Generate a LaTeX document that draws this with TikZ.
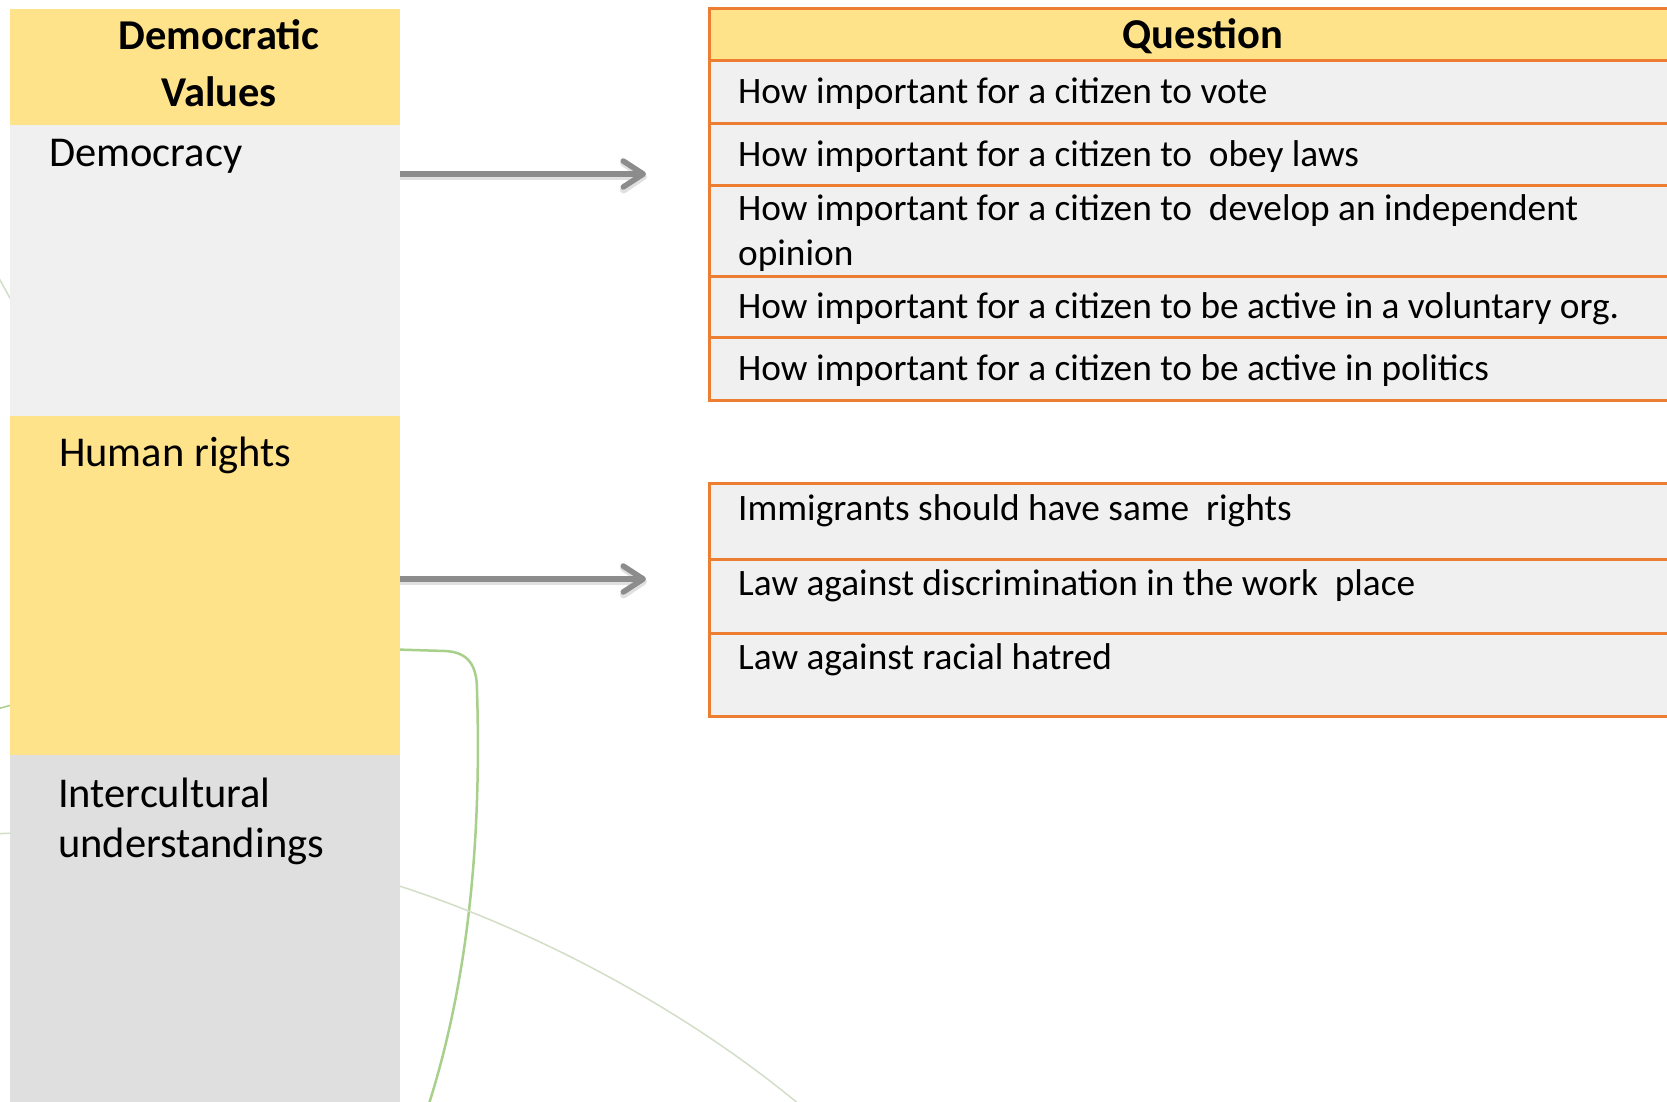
\documentclass[tikz,border=0pt]{standalone}
\usepackage{fontspec}
\setmainfont{Carlito}
\usetikzlibrary{arrows.meta}
\definecolor{cyel}{HTML}{FFE38A}
\definecolor{cgl}{HTML}{F0F0F0}
\definecolor{cgd}{HTML}{DFDFDF}
\definecolor{corg}{HTML}{ED7D31}
\definecolor{carr}{HTML}{8C8C8C}
\definecolor{cgrn}{HTML}{A8D08D}
\definecolor{cgrnf}{HTML}{D2DFC6}
\begin{document}
\begin{tikzpicture}[x=1pt,y=-1pt,
 cell/.style={rectangle, inner sep=0pt, outer sep=0pt, draw=none, anchor=north west, minimum width=390pt},
 qrow/.style={rectangle, inner sep=0pt, outer sep=0pt, anchor=north west, fill=cgl, draw=corg, line width=3pt, minimum width=991pt},
 lbig/.style={inner sep=0pt, font=\fontsize{42.5pt}{50pt}\selectfont},
 lbold/.style={inner sep=0pt, anchor=base, font=\fontsize{42.5pt}{50pt}\selectfont\bfseries},
 qtxt/.style={inner sep=0pt, anchor=base west, font=\fontsize{37.3pt}{45pt}\selectfont},
 arr/.style={draw=carr, line width=5.5pt, -{Straight Barb[length=20pt,width=26pt,round]}},
 arrshade/.style={draw=black, opacity=0.12, line width=7pt, -{Straight Barb[length=20pt,width=27pt,round]}},
]
\useasboundingbox (0,0) rectangle (1667,1101);
\clip (0,0) rectangle (1667,1101);
\fill[white] (0,0) rectangle (1667,1101);

% decorative background curves
\draw[cgrnf, line width=1.5pt] (-10,262) -- (40,352);
\draw[cgrn, line width=1.5pt] (-10,711) -- (40,697);
\draw[cgrnf, line width=1.5pt] (-10,834) -- (40,832);
\draw[cgrn, line width=2.5pt] (380,649) -- (445,651) .. controls (468,652) and (477,665) .. (477,690)
  .. controls (482,850) and (466,990) .. (427,1110);
\draw[cgrnf, line width=1.5pt] (380,880) .. controls (520,922) and (680,1005) .. (800,1105);

% left column
\node[cell, fill=cyel, minimum height=116pt] (hdr) at (10,9) {};
\node[cell, fill=cgl, minimum height=291pt] (demo) at (10,125) {};
\node[cell, fill=cyel, minimum height=339pt] (hr) at (10,416) {};
\node[cell, fill=cgd, minimum height=360pt] (ic) at (10,755) {};

\node[lbold] (hdrA) at (219,49) {Democratic};
\node[lbold] (hdrB) at (219,106) {Values};
\node[lbig, anchor=base west] (demoT) at (49,166) {Democracy};
\node[lbig, anchor=base west] (hrT) at (59,466) {Human rights};
\node[lbig, anchor=base west] (icA) at (58,807) {Intercultural};
\node[lbig, anchor=base west] (icB) at (58,857) {understandings};

% question table 1
\node[qrow, fill=cyel, minimum height=52pt] (qh) at (709,8) {};
\node[qrow, minimum height=63pt] (q1) at (709,60) {};
\node[qrow, minimum height=62pt] (q2) at (709,123) {};
\node[qrow, minimum height=91pt] (q3) at (709,185) {};
\node[qrow, minimum height=61pt] (q4) at (709,276) {};
\node[qrow, minimum height=63pt] (q5) at (709,337) {};

\node[inner sep=0pt, anchor=base, font=\fontsize{42.5pt}{48pt}\selectfont\bfseries] (qhT) at (1203,48) {Question};
\node[qtxt] (q1T) at (738,103) {How important for a citizen to vote};
\node[qtxt] (q2T) at (738,166) {How important for a citizen to\ \ obey laws};
\node[qtxt] (q3A) at (738,220) {How important for a citizen to\ \ develop an independent};
\node[qtxt] (q3B) at (738,265) {opinion};
\node[qtxt] (q4T) at (738,318) {How important for a citizen to be active in a voluntary org.};
\node[qtxt] (q5T) at (738,380) {How important for a citizen to be active in politics};

% question table 2
\node[qrow, minimum height=76pt] (r1) at (709,483) {};
\node[qrow, minimum height=74pt] (r2) at (709,559) {};
\node[qrow, minimum height=83pt] (r3) at (709,633) {};
\node[qtxt] (r1T) at (738,520) {Immigrants should have same\ \ rights};
\node[qtxt] (r2T) at (738,595) {Law against discrimination in the work\ \ place};
\node[qtxt] (r3T) at (738,669) {Law against racial hatred};

% arrows
\coordinate (t1) at (646,174);
\coordinate (t2) at (646,579);
\coordinate (s1) at (647,176.5);
\coordinate (s2) at (647,581.5);
\draw[arrshade] (demo.east |- s1) -- (s1);
\draw[arrshade] (hr.east |- s2) -- (s2);
\draw[arr] (demo.east |- t1) -- (t1);
\draw[arr] (hr.east |- t2) -- (t2);
\end{tikzpicture}
\end{document}
